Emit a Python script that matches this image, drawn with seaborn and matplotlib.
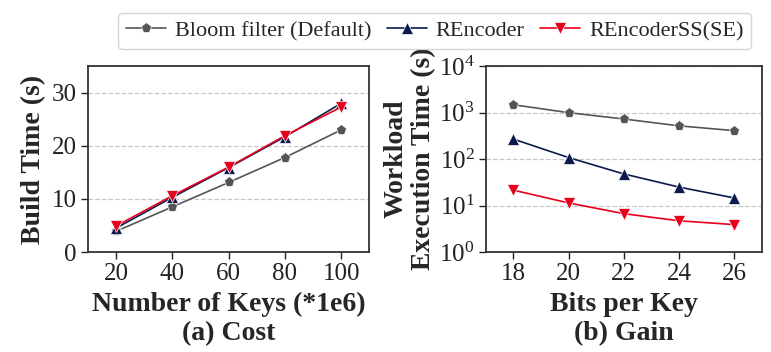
import numpy as np
import pandas as pd
import matplotlib
matplotlib.use("Agg")
import matplotlib.pyplot as plt
import seaborn as sns
from matplotlib.ticker import NullLocator, FixedLocator

# Data
keys = [20, 40, 60, 80, 100]
build_bloom = [3.9, 8.5, 13.1, 17.8, 23.0]
build_rencoder = [4.5, 10.3, 15.9, 21.7, 28.0]
build_rencoder_ss = [4.9, 10.6, 16.0, 21.9, 27.3]

bits = [18, 20, 22, 24, 26]
exec_bloom = [1480, 1000, 730, 520, 410]
exec_rencoder = [270, 108, 48, 25, 14.6]
exec_rencoder_ss = [21.5, 11.4, 6.7, 4.7, 3.9]

series = ["Bloom filter (Default)", "REncoder", "REncoderSS(SE)"]
colors = ["#555555", "#0b1a4d", "#e8001c"]
markers = ["p", "^", "v"]

sns.set_theme(style="ticks")
plt.rcParams["font.family"] = ["Liberation Serif", "DejaVu Serif"]
plt.rcParams["mathtext.fontset"] = "custom"
plt.rcParams["mathtext.rm"] = "Liberation Serif"
plt.rcParams["mathtext.it"] = "Liberation Serif:italic"
plt.rcParams["mathtext.bf"] = "Liberation Serif:bold"

df_a = pd.DataFrame({
    "x": keys * 3,
    "y": build_bloom + build_rencoder + build_rencoder_ss,
    "method": sum([[s] * len(keys) for s in series], []),
})
df_b = pd.DataFrame({
    "x": bits * 3,
    "y": exec_bloom + exec_rencoder + exec_rencoder_ss,
    "method": sum([[s] * len(bits) for s in series], []),
})

fig = plt.figure(figsize=(7.71, 3.52), dpi=100)
ax_a = fig.add_axes([0.114, 0.284, 0.365, 0.528])
ax_b = fig.add_axes([0.630, 0.284, 0.358, 0.528])

palette = dict(zip(series, colors))
marker_map = dict(zip(series, markers))

for ax, df in [(ax_a, df_a), (ax_b, df_b)]:
    sns.lineplot(
        data=df, x="x", y="y", hue="method", style="method",
        palette=palette, markers=marker_map, dashes=False,
        hue_order=series, style_order=series,
        linewidth=1.2, markersize=8, markeredgewidth=0.5,
        ax=ax, legend=(ax is ax_a),
    )

tick_fs = 18
label_fs = 20

# (a) Cost
ax_a.set_xlim(10, 110)
ax_a.set_ylim(0, 35)
ax_a.set_xticks(keys)
ax_a.set_yticks([0, 10, 20, 30])
ax_a.set_xlabel("Number of Keys (*1e6)\n(a) Cost", fontsize=label_fs, fontweight="bold",
                linespacing=1.2, labelpad=5)
ax_a.set_ylabel("Build Time (s)", fontsize=label_fs, fontweight="bold", labelpad=4)

# (b) Gain
ax_b.set_yscale("log")
ax_b.set_xlim(17, 27)
ax_b.set_ylim(1, 1e4)
ax_b.set_xticks(bits)
ax_b.yaxis.set_major_locator(FixedLocator([1, 10, 100, 1000, 10000]))
ax_b.yaxis.set_minor_locator(NullLocator())
ax_b.set_xlabel("Bits per Key\n(b) Gain", fontsize=label_fs, fontweight="bold",
                linespacing=1.2, labelpad=5)
ax_b.set_ylabel("Workload\nExecution Time (s)", fontsize=label_fs, fontweight="bold",
                linespacing=1.15, labelpad=2)

for ax in (ax_a, ax_b):
    ax.yaxis.grid(True, linestyle="--", color="#c8c8c8", linewidth=0.9)
    ax.set_axisbelow(True)
    ax.tick_params(labelsize=tick_fs, length=5, width=1.0, pad=3, colors="#222222")
    for sp in ax.spines.values():
        sp.set_visible(True)
        sp.set_color("#333333")
        sp.set_linewidth(1.3)

handles, labels = ax_a.get_legend_handles_labels()
ax_a.get_legend().remove()
fig.legend(
    handles, labels, loc="upper center", bbox_to_anchor=(0.564, 0.995),
    ncol=3, fontsize=16, frameon=True, fancybox=True, edgecolor="#cccccc",
    handlelength=1.8, handletextpad=0.4, columnspacing=0.7, borderpad=0.35,
)

fig.savefig("out.png", dpi=100)
